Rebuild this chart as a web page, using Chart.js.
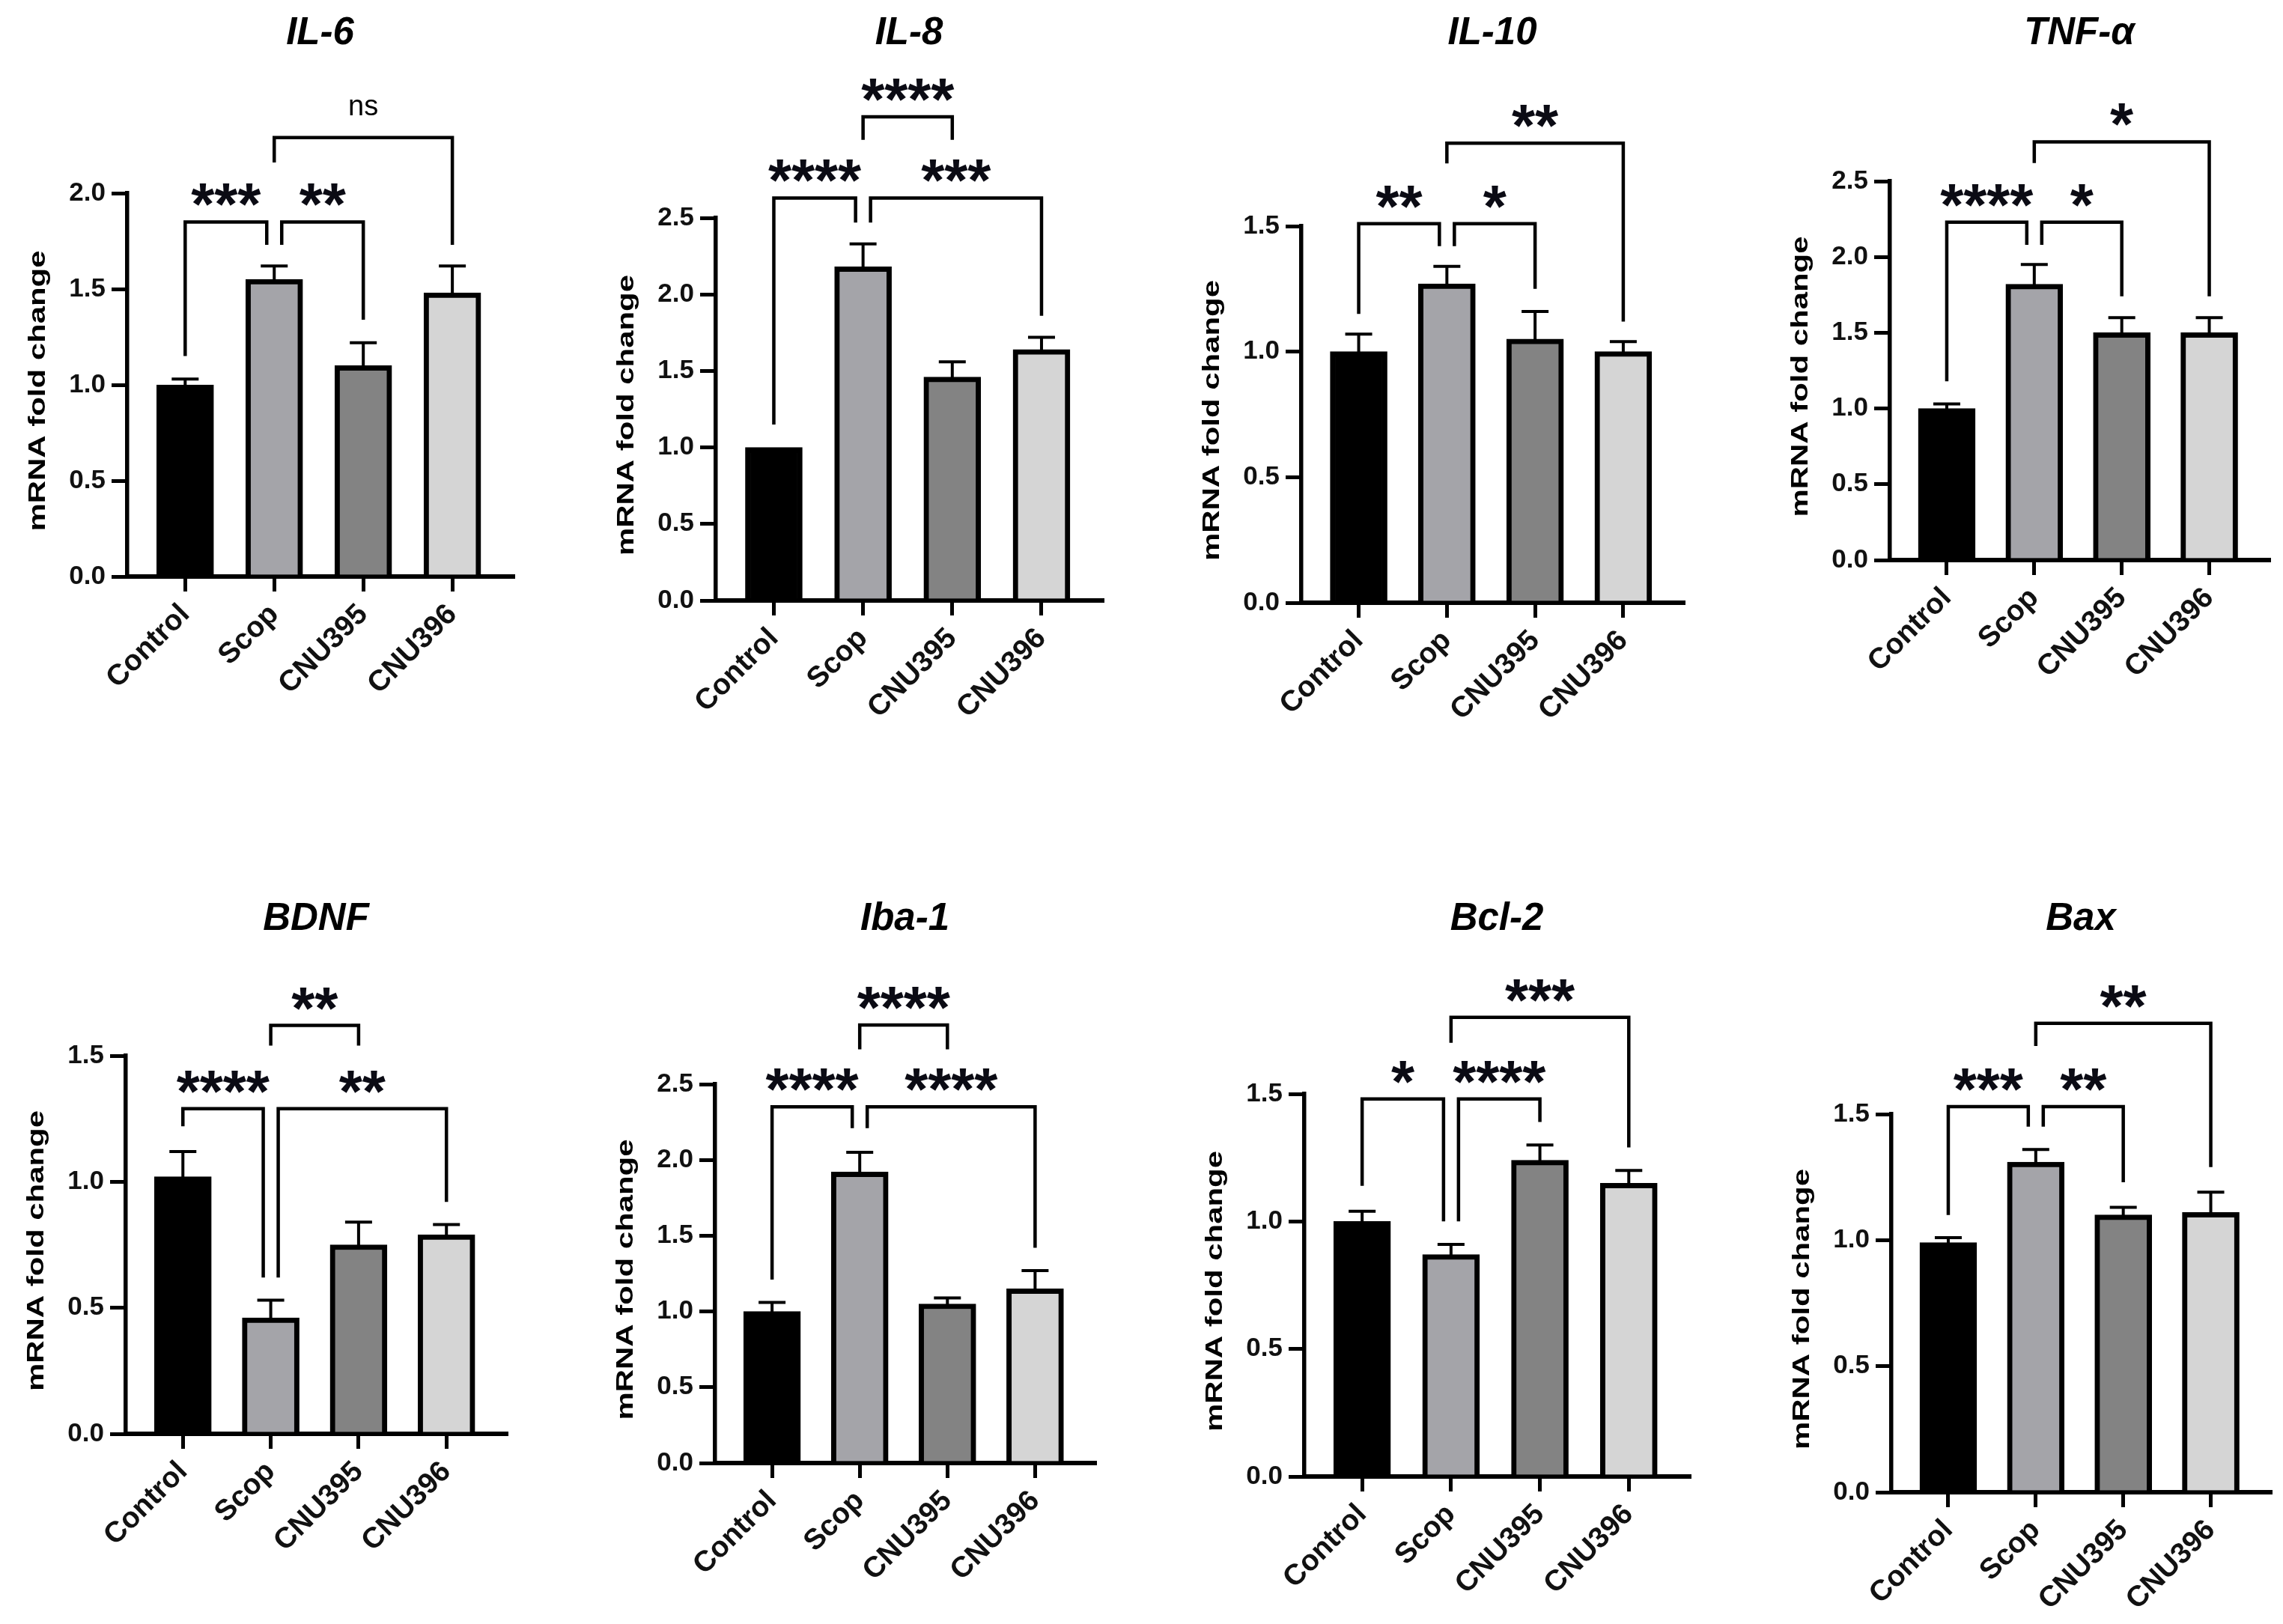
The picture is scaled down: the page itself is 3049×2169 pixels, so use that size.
<!DOCTYPE html>
<html>
<head>
<meta charset="utf-8">
<script src="https://cdn.jsdelivr.net/npm/chart.js@4.4.1/dist/chart.umd.min.js"></script>
<style>
  html, body { margin: 0; padding: 0; background: #fff; }
  body { width: 3049px; height: 2169px; position: relative; overflow: hidden; }
  canvas { position: absolute; }
</style>
</head>
<body>
<script>
// ---- data ----
const categories = ['Control', 'Scop', 'CNU395', 'CNU396'];
const genes = ['IL-6', 'IL-8', 'IL-10', 'TNF-α', 'BDNF', 'Iba-1', 'Bcl-2', 'Bax'];
const yMaxes = [2.0, 2.5, 1.5, 2.5, 1.5, 2.5, 1.5, 1.5];
const yStep = 0.5;

const il6Mean = [1.00, 1.55, 1.10, 1.48];
const il6Sem = [0.03, 0.07, 0.12, 0.14];
const il8Mean = [1.00, 2.18, 1.46, 1.64];
const il8Sem = [0, 0.15, 0.10, 0.08];
const il10Mean = [1.00, 1.27, 1.05, 1.00];
const il10Sem = [0.07, 0.07, 0.11, 0.04];
const tnfMean = [1.00, 1.82, 1.50, 1.50];
const tnfSem = [0.03, 0.13, 0.10, 0.10];
const bdnfMean = [1.02, 0.46, 0.75, 0.79];
const bdnfSem = [0.10, 0.07, 0.09, 0.04];
const iba1Mean = [1.00, 1.92, 1.05, 1.15];
const iba1Sem = [0.06, 0.13, 0.04, 0.12];
const bcl2Mean = [1.00, 0.87, 1.24, 1.15];
const bcl2Sem = [0.04, 0.04, 0.06, 0.05];
const baxMean = [0.99, 1.31, 1.10, 1.11];
const baxSem = [0.02, 0.05, 0.03, 0.08];

// significance brackets: [from, to, bracket y, left leg end y, right leg end y, label]
const il6Sig = [[0, 1, 1.85, 1.15, 1.73, '***'], [1, 2, 1.85, 1.73, 1.34, '**'], [1, 3, 2.29, 2.16, 1.73, 'ns']];
const il8Sig = [[0, 1, 2.63, 1.15, 2.47, '****'], [1, 3, 2.63, 2.47, 1.86, '***'], [1, 2, 3.16, 3.01, 3.01, '****']];
const il10Sig = [[0, 1, 1.51, 1.15, 1.42, '**'], [1, 2, 1.51, 1.42, 1.25, '*'], [1, 3, 1.83, 1.75, 1.12, '**']];
const tnfSig = [[0, 1, 2.23, 1.18, 2.08, '****'], [1, 2, 2.23, 2.08, 1.74, '*'], [1, 3, 2.76, 2.62, 1.74, '*']];
const bdnfSig = [[0, 1, 1.29, 1.22, 0.62, '****'], [1, 3, 1.29, 0.62, 0.92, '**'], [1, 2, 1.62, 1.54, 1.54, '**']];
const iba1Sig = [[0, 1, 2.35, 1.21, 2.21, '****'], [1, 3, 2.35, 2.21, 1.42, '****'], [1, 2, 2.89, 2.73, 2.73, '****']];
const bcl2Sig = [[0, 1, 1.48, 1.14, 1.00, '*'], [1, 2, 1.48, 1.00, 1.39, '****'], [1, 3, 1.80, 1.70, 1.29, '***']];
const baxSig = [[0, 1, 1.53, 1.10, 1.45, '***'], [1, 2, 1.53, 1.45, 1.23, '**'], [1, 3, 1.86, 1.77, 1.29, '**']];

const means = [il6Mean, il8Mean, il10Mean, tnfMean, bdnfMean, iba1Mean, bcl2Mean, baxMean];
const sems = [il6Sem, il8Sem, il10Sem, tnfSem, bdnfSem, iba1Sem, bcl2Sem, baxSem];
const sigs = [il6Sig, il8Sig, il10Sig, tnfSig, bdnfSig, iba1Sig, bcl2Sig, baxSig];

// ---- page layout (px): y-axis x, axis end x, top tick y, zero y, title y, canvas top ----
const frames = [
  [170, 685, 258, 770, 45, 0],
  [956, 1472, 291, 802, 45, 0],
  [1738, 2248, 302, 805, 45, 0],
  [2524, 3030, 242, 748, 45, 0],
  [168, 676, 1410, 1915, 1228, 1140],
  [955, 1462, 1448, 1954, 1228, 1140],
  [1742, 2256, 1461, 1972, 1228, 1140],
  [2526, 3032, 1488, 1993, 1228, 1140]
];

const FONT = "'Liberation Sans', Arial, sans-serif";
const barColors = ['#000000', '#a4a4a9', '#838383', '#d5d5d5'];
const YW = 165;   // width kept for the y axis
const XH = 200;   // height kept for the x axis

const overlay = {
  id: 'overlay',
  afterDatasetsDraw(chart, args, o) {
    const { ctx, chartArea, scales: { x, y } } = chart;
    ctx.save();
    ctx.strokeStyle = '#000';
    ctx.fillStyle = '#000';

    // error bars (upper only)
    ctx.lineWidth = 4;
    o.mean.forEach((m, i) => {
      if (!o.sem[i]) return;
      const px = x.getPixelForValue(i);
      const y0 = y.getPixelForValue(m) + 4;
      const y1 = y.getPixelForValue(m + o.sem[i]);
      ctx.beginPath();
      ctx.moveTo(px, y0); ctx.lineTo(px, y1);
      ctx.moveTo(px - 18, y1); ctx.lineTo(px + 18, y1);
      ctx.stroke();
    });

    // brackets
    ctx.lineWidth = 4.5;
    o.sig.forEach(s => {
      const [a, b, top, la, lb, label] = s;
      const shared = o.sig.some(t => t !== s && t[2] === top);
      let xa = x.getPixelForValue(a), xb = x.getPixelForValue(b);
      if (shared && a === 1) xa += 10;
      if (shared && b === 1) xb -= 10;
      const yt = y.getPixelForValue(top);
      ctx.beginPath();
      ctx.moveTo(xa, y.getPixelForValue(la));
      ctx.lineTo(xa, yt);
      ctx.lineTo(xb, yt);
      ctx.lineTo(xb, y.getPixelForValue(lb));
      ctx.stroke();

      const cx = (xa + xb) / 2;
      if (label === 'ns') {
        ctx.font = '38px ' + FONT;
        ctx.textAlign = 'center';
        ctx.textBaseline = 'middle';
        ctx.fillText(label, cx, yt - 40);
      } else {
        ctx.font = 'bold 80px ' + FONT;
        ctx.textAlign = 'center';
        ctx.textBaseline = 'alphabetic';
        ctx.fillStyle = '#0b0b14';
        const mt = ctx.measureText('*');
        const base = yt - 36 + (mt.actualBoundingBoxAscent - mt.actualBoundingBoxDescent) / 2;
        const n = label.length, gap = 31;
        for (let k = 0; k < n; k++) {
          ctx.fillText('*', cx + (k - (n - 1) / 2) * gap, base);
        }
        ctx.fillStyle = '#000';
      }
    });

    // gene title
    ctx.font = 'italic bold 51px ' + FONT;
    ctx.textAlign = 'center';
    ctx.textBaseline = 'middle';
    ctx.fillText(o.title, (chartArea.left + chartArea.right) / 2, o.titleY);

    // y axis title, drawn long and narrow like the original
    ctx.save();
    ctx.translate(chartArea.left - 119, (chartArea.top + chartArea.bottom) / 2 + 8);
    ctx.rotate(-Math.PI / 2);
    ctx.font = 'bold 31px ' + FONT;
    const w = ctx.measureText('mRNA fold change').width;
    ctx.scale(375 / w, 1);
    ctx.fillText('mRNA fold change', 0, 0);
    ctx.restore();

    ctx.restore();
  }
};

genes.forEach((gene, g) => {
  const [A, R, Yt, Y0, TY, T] = frames[g];
  const L = A - YW;
  const W = R - L + 12;
  const H = Y0 - T + XH;

  const cv = document.createElement('canvas');
  cv.width = W; cv.height = H;
  cv.style.left = L + 'px'; cv.style.top = T + 'px';
  cv.style.width = W + 'px'; cv.style.height = H + 'px';
  document.body.appendChild(cv);

  new Chart(cv, {
    type: 'bar',
    data: {
      datasets: [{
        data: means[g].map((v, i) => ({ x: i, y: v })),
        backgroundColor: barColors,
        borderColor: '#000',
        borderWidth: 7,
        borderSkipped: 'start',
        barThickness: 76
      }]
    },
    options: {
      responsive: false,
      animation: false,
      devicePixelRatio: 1,
      layout: { padding: { top: Yt - T, right: 12, left: 0, bottom: 0 } },
      plugins: {
        legend: { display: false },
        tooltip: { enabled: false },
        overlay: { mean: means[g], sem: sems[g], sig: sigs[g], title: gene, titleY: TY - T }
      },
      scales: {
        x: {
          type: 'linear',
          min: -0.65,
          max: 3.68,
          offset: false,
          z: 1,
          afterBuildTicks: s => { s.ticks = categories.map((c, i) => ({ value: i })); },
          afterFit: s => { s.height = XH; },
          border: { display: true, color: '#000', width: 6 },
          grid: { display: true, offset: false, drawOnChartArea: false, drawTicks: true, tickLength: 20, lineWidth: 5, color: '#000' },
          ticks: {
            autoSkip: false,
            minRotation: 45,
            maxRotation: 45,
            padding: 8,
            color: '#111',
            font: { family: FONT, size: 39, weight: 'bold' },
            callback: v => categories[v]
          }
        },
        y: {
          min: 0,
          max: yMaxes[g],
          afterFit: s => { s.width = YW; },
          border: { display: true, color: '#000', width: 5.5 },
          grid: { display: true, drawOnChartArea: false, drawTicks: true, tickLength: 21, lineWidth: 5, color: '#000' },
          ticks: {
            stepSize: yStep,
            padding: 8,
            color: '#111',
            font: { family: FONT, size: 35, weight: 'bold' },
            callback: v => v.toFixed(1)
          }
        }
      }
    },
    plugins: [overlay]
  });
});
</script>
</body>
</html>
